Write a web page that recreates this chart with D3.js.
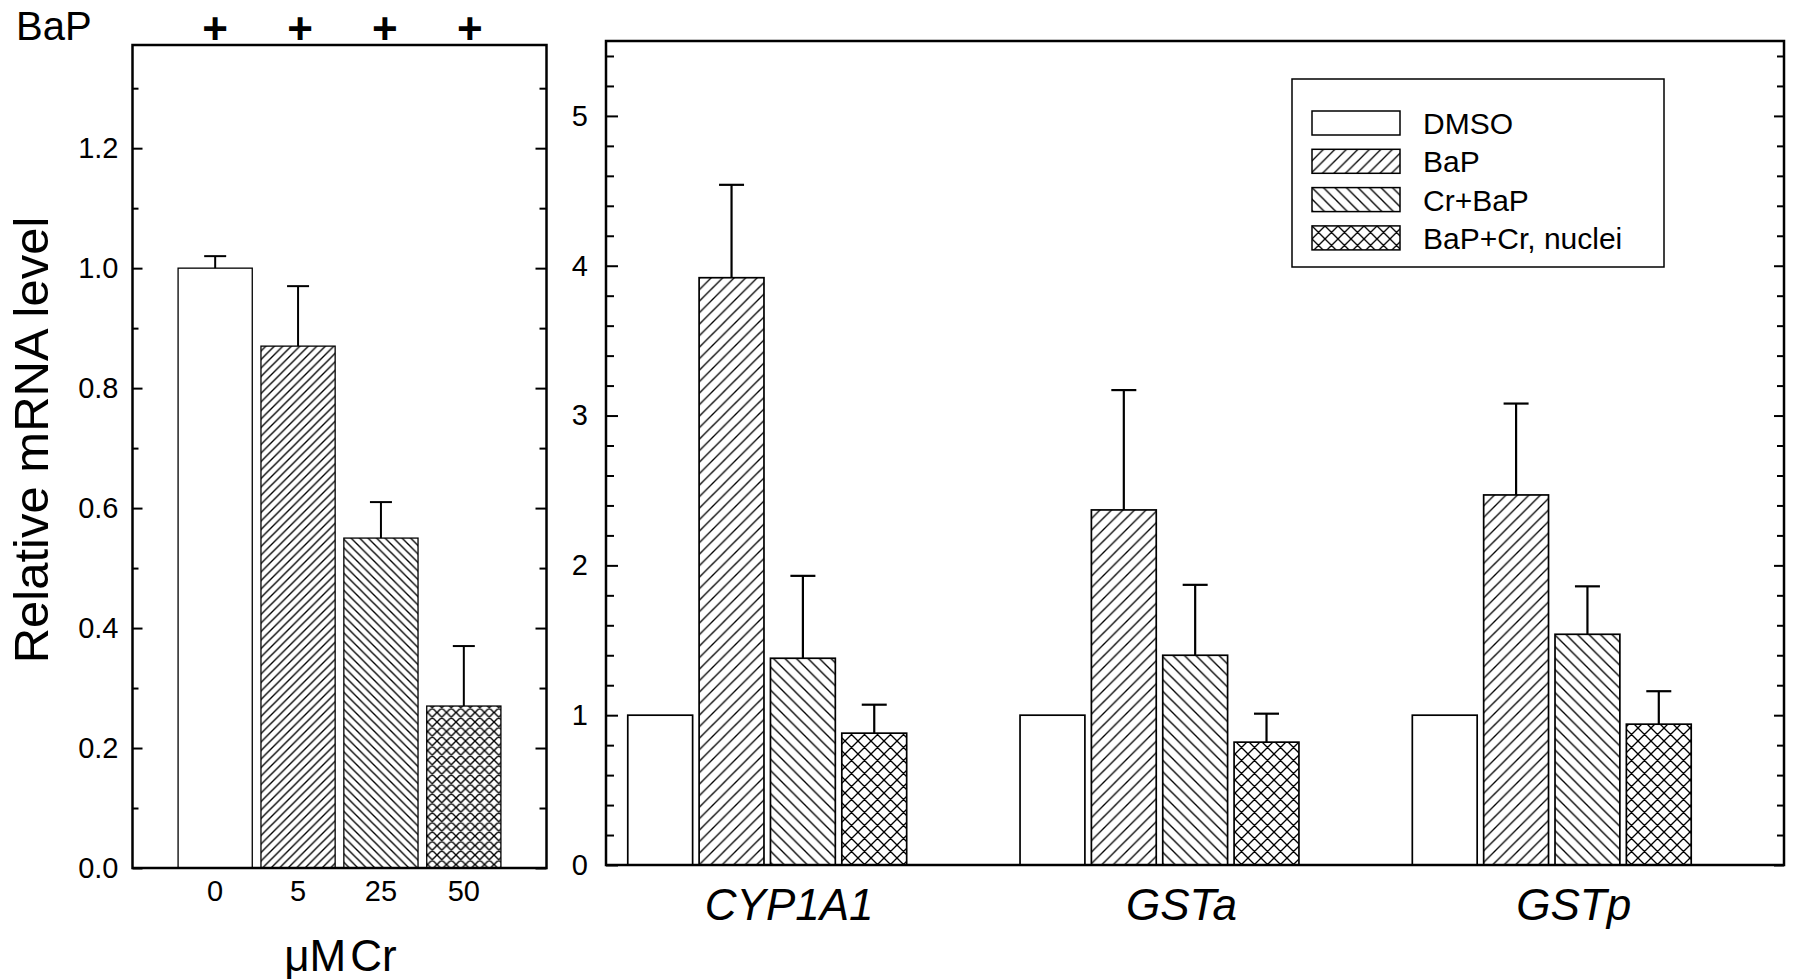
<!DOCTYPE html>
<html>
<head>
<meta charset="utf-8">
<script src="https://cdn.jsdelivr.net/npm/d3@7"></script>
<style>
  body { margin: 0; background: #fff; }
  svg { display: block; }
  text { font-family: "Liberation Sans", Arial, sans-serif; fill: #000; }
</style>
</head>
<body>
<svg id="chart" width="1795" height="980"></svg>
<script>
// ---- Cr dose panel (all BaP-treated) ----
const doseLabels = ["0", "5", "25", "50"];
const doseValues = [1.00, 0.87, 0.55, 0.27];
const doseErrors = [0.02, 0.10, 0.06, 0.10];
const doseMajorTicks = [0, 0.2, 0.4, 0.6, 0.8, 1.0, 1.2];
const doseMinorTicks = [0.1, 0.3, 0.5, 0.7, 0.9, 1.1, 1.3];

// ---- Gene panel ----
const genes = ["CYP1A1", "GSTa", "GSTp"];
const treatments = ["DMSO", "BaP", "Cr+BaP", "BaP+Cr, nuclei"];
const dmsoValues   = [1.00, 1.00, 1.00];
const bapValues    = [3.92, 2.37, 2.47];
const crBapValues  = [1.38, 1.40, 1.54];
const nucleiValues = [0.88, 0.82, 0.94];
const dmsoErrors   = [0, 0, 0];
const bapErrors    = [0.62, 0.80, 0.61];
const crBapErrors  = [0.55, 0.47, 0.32];
const nucleiErrors = [0.19, 0.19, 0.22];
const geneMajorTicks = [0, 1, 2, 3, 4, 5];
const geneMinorTicks = [0.2, 0.4, 0.6, 0.8, 1.2, 1.4, 1.6, 1.8, 2.2, 2.4, 2.6, 2.8,
                        3.2, 3.4, 3.6, 3.8, 4.2, 4.4, 4.6, 4.8, 5.2, 5.4];

const svg = d3.select("#chart");
svg.append("rect").attr("width", 1795).attr("height", 980).attr("fill", "#fff");
const defs = svg.append("defs");

// Hatch fills: open, forward diagonal, back diagonal, cross-hatch
function addPatterns(prefix, lineStep, crossStep, lw) {
  const fwd = s => `M${-s},${s} L${s},${-s} M0,${s} L${s},0 M0,${2*s} L${2*s},0`;
  const back = s => `M0,0 L${s},${s} M${-s},0 L${s},${2*s} M0,${-s} L${2*s},${s}`;
  const kinds = [
    { id: "fwd", step: lineStep, d: s => fwd(s) },
    { id: "back", step: lineStep, d: s => back(s) },
    { id: "cross", step: crossStep, d: s => fwd(s) + " " + back(s) }
  ];
  kinds.forEach(k => {
    const p = defs.append("pattern")
      .attr("id", `${prefix}-${k.id}`)
      .attr("patternUnits", "userSpaceOnUse")
      .attr("width", k.step).attr("height", k.step);
    p.append("rect").attr("width", k.step).attr("height", k.step).attr("fill", "#fff");
    p.append("path").attr("d", k.d(k.step))
      .attr("stroke", "#000").attr("stroke-width", lw).attr("fill", "none");
  });
  return i => ["#fff", `url(#${prefix}-fwd)`, `url(#${prefix}-back)`, `url(#${prefix}-cross)`][i];
}
const doseFill = addPatterns("dose", 8.5, 9.5, 1.35);
const geneFill = addPatterns("gene", 11.5, 13, 1.35);

// ================= Left panel =================
const L = { x0: 132.5, x1: 546.5, y0: 868, y1: 45 };
const xDose = d3.scaleBand().domain(doseLabels).range([L.x0, L.x1])
  .paddingInner(0.105).paddingOuter(0.55);
const yDose = d3.scaleLinear().domain([0, 1.372]).range([L.y0, L.y1]);

const doseData = doseLabels.map((c, i) => ({ c, i, v: doseValues[i], e: doseErrors[i] }));
const gL = svg.append("g");

gL.selectAll("rect.bar").data(doseData).join("rect")
  .attr("class", "bar")
  .attr("x", d => xDose(d.c)).attr("width", xDose.bandwidth())
  .attr("y", d => yDose(d.v)).attr("height", d => yDose(0) - yDose(d.v))
  .attr("fill", d => doseFill(d.i)).attr("stroke", "#000").attr("stroke-width", 1.3);

const errL = gL.selectAll("g.err").data(doseData.filter(d => d.e > 0)).join("g").attr("class", "err");
errL.append("line")
  .attr("x1", d => xDose(d.c) + xDose.bandwidth() / 2).attr("x2", d => xDose(d.c) + xDose.bandwidth() / 2)
  .attr("y1", d => yDose(d.v)).attr("y2", d => yDose(d.v + d.e))
  .attr("stroke", "#000").attr("stroke-width", 2);
errL.append("line")
  .attr("x1", d => xDose(d.c) + xDose.bandwidth() / 2 - 11).attr("x2", d => xDose(d.c) + xDose.bandwidth() / 2 + 11)
  .attr("y1", d => yDose(d.v + d.e)).attr("y2", d => yDose(d.v + d.e))
  .attr("stroke", "#000").attr("stroke-width", 2);

function styleAxis(g) {
  g.select(".domain").remove();
  g.selectAll(".tick line").attr("stroke", "#000").attr("stroke-width", 2);
  g.selectAll(".tick text").style("font-size", "29px").attr("fill", "#000");
}

gL.append("g").attr("transform", `translate(${L.x0},0)`)
  .call(d3.axisLeft(yDose).tickValues(doseMajorTicks).tickSizeInner(-10).tickSizeOuter(0)
    .tickPadding(14).tickFormat(d3.format(".1f")))
  .call(styleAxis);
gL.append("g").attr("transform", `translate(${L.x0},0)`)
  .call(d3.axisLeft(yDose).tickValues(doseMinorTicks).tickSizeInner(-6).tickSizeOuter(0).tickFormat(""))
  .call(styleAxis);
gL.append("g").attr("transform", `translate(${L.x1},0)`)
  .call(d3.axisRight(yDose).tickValues(doseMajorTicks).tickSizeInner(-11).tickSizeOuter(0).tickFormat(""))
  .call(styleAxis);
gL.append("g").attr("transform", `translate(${L.x1},0)`)
  .call(d3.axisRight(yDose).tickValues(doseMinorTicks).tickSizeInner(-7).tickSizeOuter(0).tickFormat(""))
  .call(styleAxis);

gL.append("rect").attr("x", L.x0).attr("y", L.y1)
  .attr("width", L.x1 - L.x0).attr("height", L.y0 - L.y1)
  .attr("fill", "none").attr("stroke", "#000").attr("stroke-width", 2.5);

// dose labels under the bars
gL.selectAll("text.dose").data(doseData).join("text")
  .attr("class", "dose")
  .attr("x", d => xDose(d.c) + xDose.bandwidth() / 2).attr("y", L.y0 + 33)
  .attr("text-anchor", "middle").style("font-size", "29px")
  .text(d => d.c);

// BaP row above the panel
svg.append("text").attr("x", 16).attr("y", 40).style("font-size", "40px").text("BaP");
gL.selectAll("text.plus").data(doseData).join("text")
  .attr("class", "plus")
  .attr("x", d => xDose(d.c) + xDose.bandwidth() / 2 + d.i * 2).attr("y", 44)
  .attr("text-anchor", "middle").style("font-size", "44px").style("font-weight", "bold")
  .text("+");

// x title
const xt = svg.append("text").attr("x", (L.x0 + L.x1) / 2 + 1).attr("y", 971)
  .attr("text-anchor", "middle").style("font-size", "44px");
xt.append("tspan").text("\u03BCM");
xt.append("tspan").attr("dx", 4).text("Cr");

// y title
svg.append("text").attr("transform", "translate(48,440) rotate(-90)")
  .attr("text-anchor", "middle").style("font-size", "49px")
  .text("Relative mRNA level");

// ================= Right panel =================
const R = { x0: 606, x1: 1784, y0: 865, y1: 41 };
const xGene = d3.scaleBand().domain(genes).range([R.x0, R.x1])
  .paddingInner(0.289).paddingOuter(0.146).align(0.19);
const xTreat = d3.scaleBand().domain(treatments).range([0, xGene.bandwidth()]).paddingInner(0.091);
const yGene = d3.scaleLinear().domain([0, 5.5]).range([R.y0, R.y1]);

const seriesValues = [dmsoValues, bapValues, crBapValues, nucleiValues];
const seriesErrors = [dmsoErrors, bapErrors, crBapErrors, nucleiErrors];
const geneData = [];
genes.forEach((g, gi) => treatments.forEach((t, ti) => {
  geneData.push({ g, t, ti, v: seriesValues[ti][gi], e: seriesErrors[ti][gi] });
}));
const cx = d => xGene(d.g) + xTreat(d.t) + xTreat.bandwidth() / 2;

const gR = svg.append("g");
gR.selectAll("rect.bar").data(geneData).join("rect")
  .attr("class", "bar")
  .attr("x", d => xGene(d.g) + xTreat(d.t)).attr("width", xTreat.bandwidth())
  .attr("y", d => yGene(d.v)).attr("height", d => yGene(0) - yGene(d.v))
  .attr("fill", d => geneFill(d.ti)).attr("stroke", "#000").attr("stroke-width", 1.7);

const errR = gR.selectAll("g.err").data(geneData.filter(d => d.e > 0)).join("g").attr("class", "err");
errR.append("line")
  .attr("x1", cx).attr("x2", cx)
  .attr("y1", d => yGene(d.v)).attr("y2", d => yGene(d.v + d.e))
  .attr("stroke", "#000").attr("stroke-width", 2.2);
errR.append("line")
  .attr("x1", d => cx(d) - 12.5).attr("x2", d => cx(d) + 12.5)
  .attr("y1", d => yGene(d.v + d.e)).attr("y2", d => yGene(d.v + d.e))
  .attr("stroke", "#000").attr("stroke-width", 2.2);

gR.append("g").attr("transform", `translate(${R.x0},0)`)
  .call(d3.axisLeft(yGene).tickValues(geneMajorTicks).tickSizeInner(-12).tickSizeOuter(0)
    .tickPadding(18).tickFormat(d3.format("d")))
  .call(styleAxis);
gR.append("g").attr("transform", `translate(${R.x0},0)`)
  .call(d3.axisLeft(yGene).tickValues(geneMinorTicks).tickSizeInner(-8).tickSizeOuter(0).tickFormat(""))
  .call(styleAxis);
gR.append("g").attr("transform", `translate(${R.x1},0)`)
  .call(d3.axisRight(yGene).tickValues(geneMajorTicks).tickSizeInner(-10).tickSizeOuter(0).tickFormat(""))
  .call(styleAxis);
gR.append("g").attr("transform", `translate(${R.x1},0)`)
  .call(d3.axisRight(yGene).tickValues(geneMinorTicks).tickSizeInner(-7).tickSizeOuter(0).tickFormat(""))
  .call(styleAxis);

gR.append("rect").attr("x", R.x0).attr("y", R.y1)
  .attr("width", R.x1 - R.x0).attr("height", R.y0 - R.y1)
  .attr("fill", "none").attr("stroke", "#000").attr("stroke-width", 2.5);

// gene names
gR.selectAll("text.gene").data(genes).join("text")
  .attr("class", "gene")
  .attr("x", g => xGene(g) + xGene.bandwidth() / 2 + 22).attr("y", 920)
  .attr("text-anchor", "middle").style("font-size", "44px").style("font-style", "italic")
  .text(g => g);

// legend
const leg = svg.append("g").attr("transform", "translate(1292,79)");
leg.append("rect").attr("width", 372).attr("height", 188)
  .attr("fill", "#fff").attr("stroke", "#000").attr("stroke-width", 1.5);
const items = leg.selectAll("g.item").data(treatments).join("g")
  .attr("class", "item")
  .attr("transform", (t, i) => `translate(20,${32 + i * 38.3})`);
items.append("rect").attr("width", 88).attr("height", 24)
  .attr("fill", (t, i) => geneFill(i)).attr("stroke", "#000").attr("stroke-width", 1.5);
items.append("text").attr("x", 111).attr("y", 23).style("font-size", "30px").text(t => t);
</script>
</body>
</html>
